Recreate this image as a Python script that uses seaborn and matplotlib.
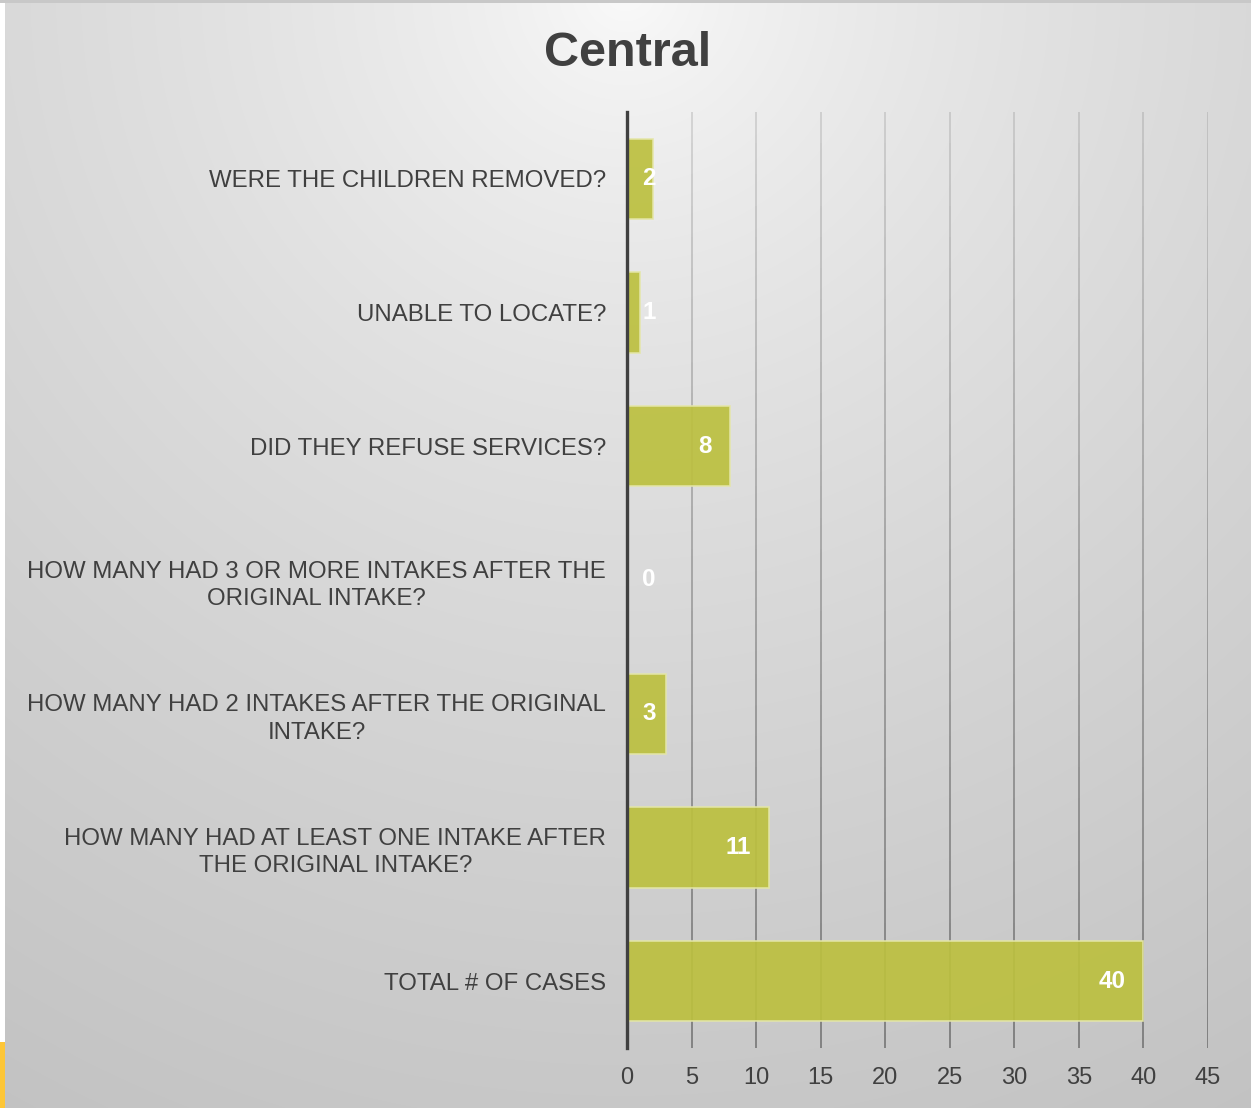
import numpy as np
import pandas as pd
import matplotlib
matplotlib.use("Agg")
import matplotlib.pyplot as plt
from matplotlib.collections import LineCollection
import seaborn as sns

# данные
categories = [
    "WERE THE CHILDREN REMOVED?",
    "UNABLE TO LOCATE?",
    "DID THEY REFUSE SERVICES?",
    "HOW MANY HAD 3 OR MORE INTAKES AFTER THE\nORIGINAL INTAKE?",
    "HOW MANY HAD 2 INTAKES AFTER THE ORIGINAL\nINTAKE?",
    "HOW MANY HAD AT LEAST ONE INTAKE AFTER\nTHE ORIGINAL INTAKE?",
    "TOTAL # OF CASES",
]
counts = [2, 1, 8, 0, 3, 11, 40]
x_ticks = [0, 5, 10, 15, 20, 25, 30, 35, 40, 45]

df = pd.DataFrame({"question": categories, "count": counts})

sns.set_style("white")
plt.rcParams["font.family"] = ["Liberation Sans", "DejaVu Sans"]
text_color = "#404040"

fig = plt.figure(figsize=(12.51, 11.08), dpi=100)

# фон с радиальным градиентом
bg = fig.add_axes([0, 0, 1, 1], zorder=-10)
h, w = 1108, 1251
yy, xx = np.mgrid[0:h, 0:w]
r = np.sqrt((xx - 625) ** 2 + (yy + 10) ** 2) / 1100
gray = np.clip(0.985 - 0.2 * np.clip(r, 0, 1.2) ** 0.7, 0, 1)
bg.imshow(np.dstack([gray, gray, gray]), aspect="auto", extent=[0, 1, 0, 1])
bg.add_patch(plt.Rectangle((0, 0), 5 / w, 1, color="white", lw=0))
bg.add_patch(plt.Rectangle((0, 1 - 3 / h), 1, 3 / h, color="#c8c8c8", lw=0))
bg.add_patch(plt.Rectangle((0, 0), 5 / w, 66 / h, color="#fdc637", lw=0))
bg.set_xlim(0, 1)
bg.set_ylim(0, 1)
bg.axis("off")

ax = fig.add_axes([627 / w, 1 - 1048 / h, (1208 - 627) / w, (1048 - 112) / h])
ax.patch.set_alpha(0)

sns.barplot(data=df, y="question", x="count", orient="h", color="#bcc03f",
            width=0.6, alpha=0.92, edgecolor="#e4e6a8", linewidth=1.2,
            saturation=1, ax=ax, zorder=3)

ax.set_xlim(0, 45)
ax.set_ylim(len(categories) - 0.5, -0.5)
ax.set_xticks(x_ticks)
ax.set_xlabel("")
ax.set_ylabel("")

# сетка: светлее сверху, темнее снизу
n_seg = 30
edges = np.linspace(-0.5, len(categories) - 0.5, n_seg + 1)
segs, cols = [], []
for t in x_ticks[1:]:
    for k in range(n_seg):
        segs.append([(t, edges[k]), (t, edges[k + 1])])
        a = 0.2 + 0.48 * (k / (n_seg - 1))
        cols.append((0.35, 0.35, 0.35, a))
ax.add_collection(LineCollection(segs, colors=cols, linewidths=1.3, zorder=1))

ax.tick_params(axis="x", length=0, pad=14, labelsize=17, labelcolor=text_color)
ax.tick_params(axis="y", length=0, pad=15, labelsize=17.3, labelcolor=text_color)
for lab in ax.get_yticklabels():
    lab.set_multialignment("center")
    lab.set_linespacing(1.32)

for s in ["top", "right", "bottom"]:
    ax.spines[s].set_visible(False)
ax.spines["left"].set_color(text_color)
ax.spines["left"].set_linewidth(2.4)
ax.spines["left"].set_zorder(5)

# подписи значений
for i, v in enumerate(counts):
    if v - 1.4 > 2.6:
        ax.text(v - 1.4, i, str(v), ha="right", va="center", color="white",
                fontsize=17.5, fontweight="bold", zorder=6)
    else:
        ax.text(1.7, i, str(v), ha="center", va="center", color="white",
                fontsize=17.5, fontweight="bold", zorder=6)

fig.suptitle("Central", x=0.502, y=1 - 54 / h, va="center", fontsize=35,
             fontweight="bold", color=text_color)

fig.savefig("out.png", dpi=100)
